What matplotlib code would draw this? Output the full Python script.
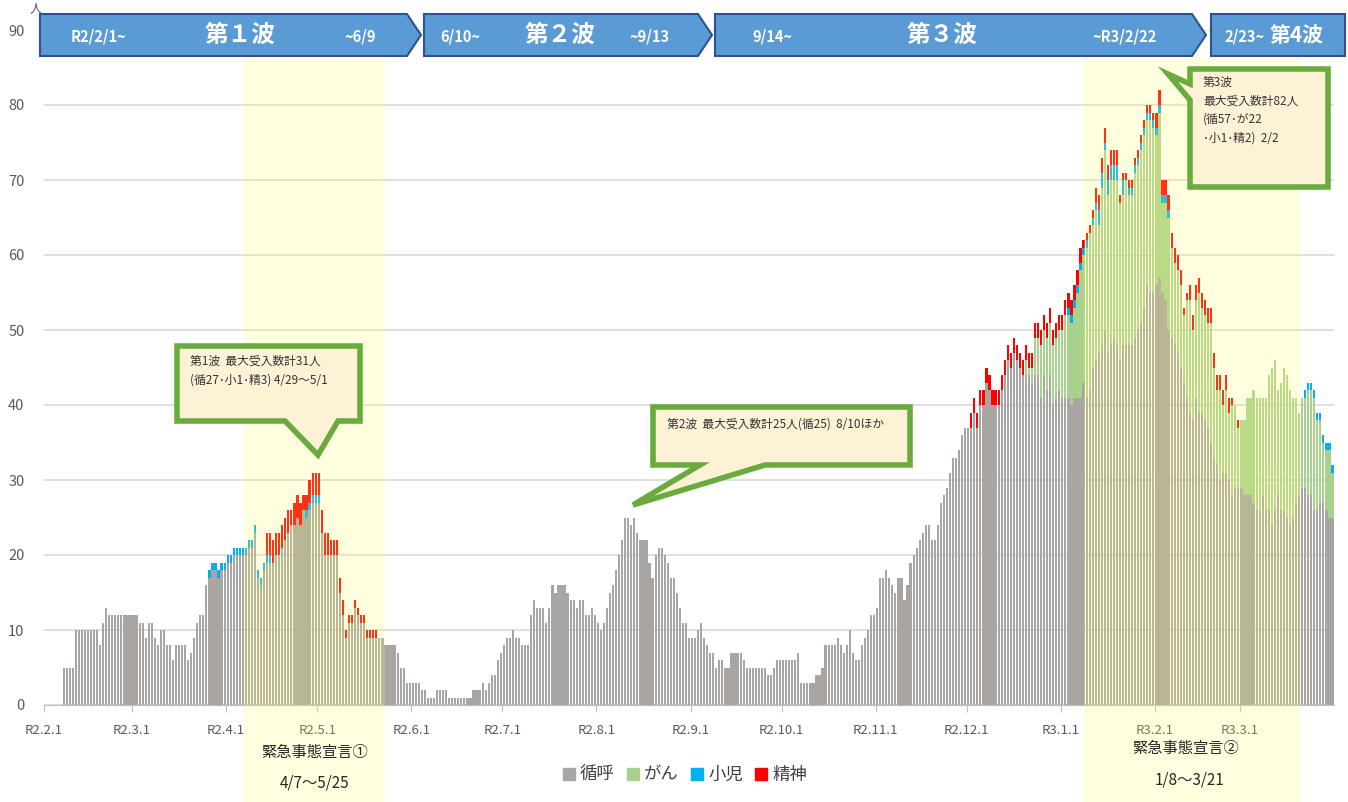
import numpy as np
import pandas as pd
import matplotlib
matplotlib.use("Agg")
import matplotlib.pyplot as plt
from matplotlib.patches import Polygon, Rectangle

plt.rcParams['font.family'] = ['Noto Sans CJK JP', 'DejaVu Sans']

# ---- data (daily) ----
first_day = '2020-02-01'
last_day = '2021-03-31'
tick_labels = ['R2.2.1', 'R2.3.1', 'R2.4.1', 'R2.5.1', 'R2.6.1', 'R2.7.1', 'R2.8.1',
               'R2.9.1', 'R2.10.1', 'R2.11.1', 'R2.12.1', 'R3.1.1', 'R3.2.1', 'R3.3.1']

# 循呼 : every day from 2020-02-01
junko = [
    0,0,0,0,0,0,5,5,5,5,10,10,10,10,10,10,10,10,8,11,13,12,12,12,12,12,12,12,12,                # 2020-02
    12,12,11,11,9,11,11,9,8,10,10,8,8,6,8,8,8,8,6,7,9,11,12,12,16,17,18,18,17,18,18,           # 03
    19,19,20,20,20,20,20,21,21,23,17,16,18,19,19,19,20,20,21,22,23,24,24,25,24,26,25,26,27,27, # 04
    27,23,20,20,20,20,20,15,12,9,11,11,13,12,11,11,9,9,9,9,9,9,8,8,8,8,7,5,5,3,3,              # 05
    3,3,3,2,2,1,1,1,2,2,2,2,1,1,1,1,1,1,1,1,2,2,2,3,2,3,4,4,6,7,                               # 06
    8,9,9,10,9,9,8,8,8,12,14,13,13,13,11,13,16,15,16,16,16,15,14,14,13,14,14,12,12,13,12,      # 07
    11,10,11,13,15,16,18,20,22,25,25,24,25,23,22,22,22,19,17,20,21,21,20,19,17,17,15,13,11,11,9, # 08
    9,9,10,11,9,8,7,7,5,6,6,5,5,7,7,7,7,6,5,5,5,5,5,5,5,4,4,5,6,6,                             # 09
    6,6,6,6,6,7,3,3,3,3,3,4,4,5,8,8,8,8,9,8,7,8,10,7,6,6,8,9,10,12,12,                         # 10
    13,17,17,18,17,16,15,17,17,14,16,19,20,21,22,23,24,24,22,22,24,27,28,29,31,33,33,34,36,37, # 11
    37,37,39,37,40,40,43,42,40,40,40,42,44,46,45,47,46,45,44,44,44,43,44,44,41,44,42,44,40,41,42, # 12
    41,41,41,40,41,41,41,43,41,42,45,46,47,48,50,47,48,49,48,46,48,48,48,48,49,50,51,53,56,55,55, # 2021-01
    56,57,55,54,50,49,48,47,45,43,41,39,38,41,39,39,38,37,35,33,32,30,31,31,30,28,29,29,       # 02
    29,28,28,28,27,26,26,28,26,26,24,26,28,26,26,25,24,25,27,28,29,29,28,28,26,26,27,27,26,25,25, # 03
]

# がん : from 2020-12-20
gan = [
    ('2020-12-20', [2,1,2,5,5,7,6,7,7,8,8,8,
                    9,11,11,11,12,14,17,17,20,21,19,20,17,21,24,21,22,21,22,21,20,22,20,20,22,22,23,23,22,23,22,
                    20,22,12,13,15,12,11,11,11,9,13,15,12,13,16,14,14,14,16,12,10,12,9,11,9,12,11,8,
                    9,10,13,13,15,15,15,13,15,18,21,20,14,17,19,19,18,16,14,11,12,12,14,14,15,12,11,8,8,9,6]),
]

# 小児
shoni = [
    ('2020-03-26', [1,1,1,1,1,1,
                    1,1,1,1,1,1,1,1,1,1,1,1,1,1,1,0,0,0,0,0,0,0,0,0,0,0,1,1,1,1,
                    1]),
    ('2021-01-01', [0,0,1,1,1,1,1,1,1,0,1,1,2,2,1,2,2,2,2,0,2,0,1,1,1,1,1,1,1,1,1,
                    1,1,1,1,1]),
    ('2021-03-22', [1,1,1,1,1,1,1,1,1,1]),
]

# 精神
seishin = [
    ('2020-04-14', [3,3,3,3,3,3,3,3,2,3,3,3,2,2,3,3,3,
                    3,3,3,3,2,2,2,2,2,1,1,1,1,1,1,1,1,1,1,1]),
    ('2020-12-02', [2,2,2,2,2,2,2,2,2,2,2,2,2,2,2,2,2,2,2,2,2,2,2,2,2,2,2,2,2,2,
                    2,2,2,2,2,2,2,1,1,1,1,2,2,2,2,2,2,2,2,1,1,1,1,1,1,1,1,1,1,1,1,
                    2,2,2,2,2,2,2,2,2,1,1,2,2,2,2,2,2,2,2,2,2,2,2,2,2,1,0,1]),
]

series_names = ['循呼', 'がん', '小児', '精神']
series_colors = ['#A8A5A2', '#A9D18E', '#00B0F0', '#FF0000']

# 緊急事態宣言 shaded periods (day index edges as drawn)
decl_spans = [(66.0, 112.3), (342.8, 413.8)]

days = pd.date_range(first_day, last_day, freq='D')
n = len(days)


def daily(parts):
    out = np.zeros(n)
    for start, vals in parts:
        i = (pd.Timestamp(start) - days[0]).days
        out[i:i + len(vals)] = vals
    return out


stack = [np.array(junko, float), daily(gan), daily(shoni), daily(seishin)]
assert len(junko) == n

W, H = 1348, 802
L, R, T, B = 44, 1334, 30, 705
fig = plt.figure(figsize=(W / 100, H / 100), dpi=100)
ax = fig.add_axes([L / W, 1 - B / H, (R - L) / W, (B - T) / H])

x = np.arange(n) + 0.5
bottom = np.zeros(n)
for vals, col, name in zip(stack, series_colors, series_names):
    ax.bar(x, vals, 0.72, bottom=bottom, color=col, label=name, linewidth=0, zorder=2)
    bottom += vals

ax.set_xlim(0, n)
ax.set_ylim(0, 90)
ax.set_yticks(range(0, 91, 10))
month_starts = pd.date_range(first_day, last_day, freq='MS')
ax.set_xticks([(d - days[0]).days for d in month_starts])
ax.set_xticklabels(tick_labels)
ax.grid(axis='y', color='#D9D9D9', lw=1.2, zorder=0)
for s in ['top', 'right', 'left']:
    ax.spines[s].set_visible(False)
ax.spines['bottom'].set_color('#BFBFBF')
ax.tick_params(axis='y', length=0, pad=14, labelsize=10.5, labelcolor='#595959')
ax.tick_params(axis='x', length=5, color='#BFBFBF', pad=9, labelsize=9.5, labelcolor='#595959')

leg_handles = [Rectangle((0, 0), 1, 1, color=c) for c in series_colors]
ax.legend(leg_handles, series_names, loc='center', bbox_to_anchor=(685 / W, 1 - 775 / H),
          bbox_transform=fig.transFigure, ncol=4, frameon=False, fontsize=12.5,
          handlelength=0.7, handleheight=0.7, handletextpad=0.3, columnspacing=0.7,
          labelcolor='#404040')

# ---- overlay in pixel coordinates ----
ov = fig.add_axes([0, 0, 1, 1], zorder=3)
ov.set_xlim(0, W)
ov.set_ylim(H, 0)
ov.axis('off')

px_per_day = (R - L) / n
for d0, d1 in decl_spans:
    ov.add_patch(Rectangle((L + d0 * px_per_day, 58), (d1 - d0) * px_per_day, H - 58,
                           fc='#FFFF66', alpha=0.2, lw=0))

ov.text(315, 752, '緊急事態宣言①', ha='center', va='center', fontsize=11, color='#262626')
ov.text(315, 783, '4/7～5/25', ha='center', va='center', fontsize=11, color='#262626')
ov.text(1186, 748, '緊急事態宣言②', ha='center', va='center', fontsize=11, color='#262626')
ov.text(1190, 780, '1/8～3/21', ha='center', va='center', fontsize=11, color='#262626')
ov.text(36, 10, '人', ha='center', va='center', fontsize=9, color='#595959')

# wave banner
banner_fc, banner_ec = '#5B9BD5', '#2F528F'
y0, y1 = 14, 56
ym = (y0 + y1) / 2
for xa, xb, xt in [(40, 407, 421), (424, 698, 712), (715, 1192, 1206)]:
    ov.add_patch(Polygon([(xa, y0), (xb, y0), (xt, ym), (xb, y1), (xa, y1)],
                         closed=True, fc=banner_fc, ec=banner_ec, lw=1.5))
ov.add_patch(Rectangle((1211, y0), 134, y1 - y0, fc=banner_fc, ec=banner_ec, lw=1.5))

small = dict(color='white', fontsize=10.5, fontweight='bold', ha='center', va='center')
big = dict(color='white', fontsize=17, fontweight='bold', ha='center', va='center')
ov.text(98, ym + 1, 'R2/2/1~', **small)
ov.text(240, ym, '第１波', **big)
ov.text(360, ym + 1, '~6/9', **small)
ov.text(460, ym + 1, '6/10~', **small)
ov.text(560, ym, '第２波', **big)
ov.text(650, ym + 1, '~9/13', **small)
ov.text(772, ym + 1, '9/14~', **small)
ov.text(942, ym, '第３波', **big)
ov.text(1125, ym + 1, '~R3/2/22', **small)
ov.text(1245, ym + 1, '2/23~', **small)
ov.text(1297, ym, '第4波', **dict(big, fontsize=15))

# callouts
call_fc, call_ec = '#FDF2D6', '#6AAB3F'
callouts = [
    ([(177, 346), (360, 346), (360, 421), (338, 421), (318, 455), (285, 421), (177, 421)],
     190, 355, '第1波  最大受入数計31人\n(循27･小1･精3) 4/29～5/1'),
    ([(653, 407), (910, 407), (910, 465), (765, 465), (633, 505), (700, 465), (653, 465)],
     667, 418, '第2波  最大受入数計25人(循25)  8/10ほか'),
    ([(1190, 69), (1328, 69), (1328, 187), (1190, 187), (1190, 100), (1168, 74), (1190, 84)],
     1203, 76, '第3波\n最大受入数計82人\n(循57･が22\n･小1･精2)  2/2'),
]
for pts, tx, ty, txt in callouts:
    ov.add_patch(Polygon(pts, closed=True, fc=call_fc, ec=call_ec, lw=4, joinstyle='miter'))
    ov.text(tx, ty, txt, ha='left', va='top', fontsize=8.5, color='#333333', linespacing=1.55)

fig.savefig('out.png', dpi=100)
